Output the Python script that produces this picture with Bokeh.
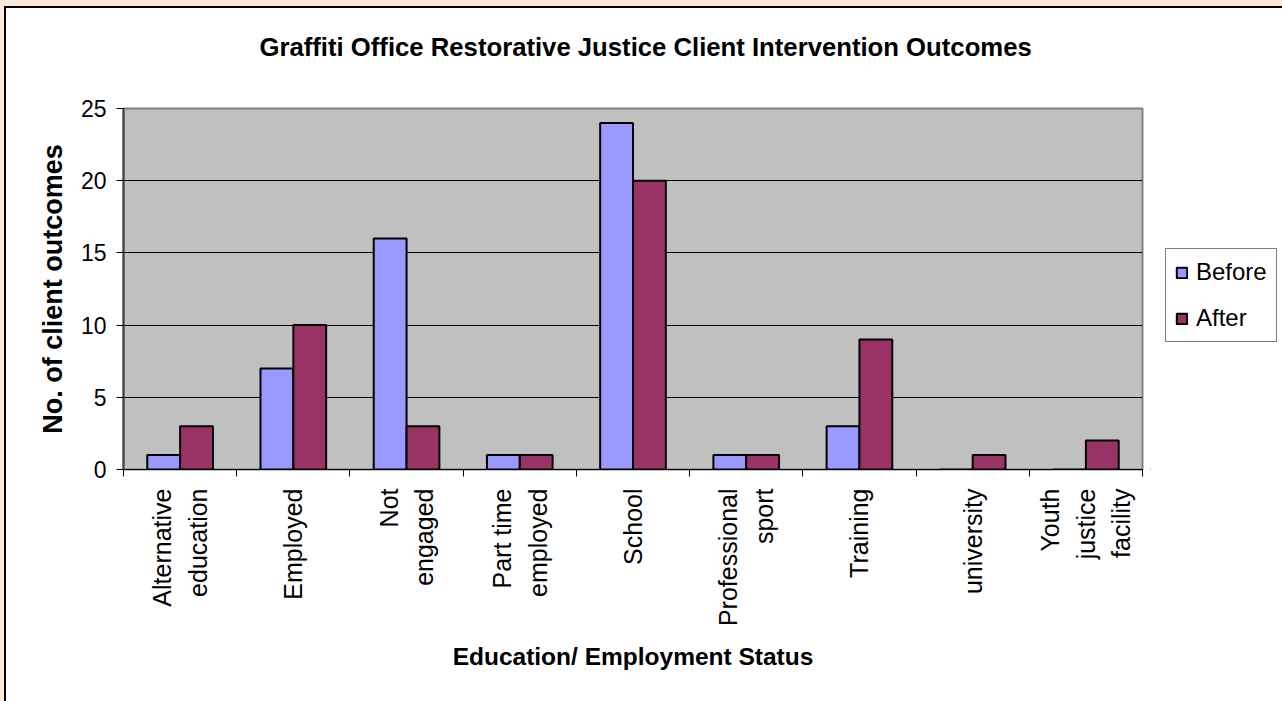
from bokeh.plotting import figure
from bokeh.models import FixedTicker, Legend, LegendItem, ColumnDataSource, Range1d, Title
from bokeh.layouts import row
from bokeh.embed import file_html
from bokeh.resources import INLINE

# ---- data ----
categories = ["Alternative education", "Employed", "Not engaged", "Part time employed",
              "School", "Professional sport", "Training", "university", "Youth justice facility"]
tick_labels = ["Alternative\neducation", "Employed", "Not\nengaged", "Part time\nemployed",
               "School", "Professional\nsport", "Training", "university", "Youth\njustice\nfacility"]
before = [1, 7, 16, 1, 24, 1, 3, 0, 0]
after = [3, 10, 3, 1, 20, 1, 9, 1, 2]
series_names = ["Before", "After"]
series_colors = ["#9999FF", "#993366"]
y_ticks = [0, 5, 10, 15, 20, 25]
chart_title = "Graffiti Office Restorative Justice Client Intervention Outcomes"

FONT = "Liberation Sans"
BAR_W = 0.29

n = len(categories)
centers = [i + 0.5 for i in range(n)]
src = ColumnDataSource(dict(
    cat=categories,
    xb=[c - BAR_W / 2 for c in centers],
    xa=[c + BAR_W / 2 for c in centers],
    before=before,
    after=after,
))

p = figure(width=1150, height=701, output_backend="svg", toolbar_location=None, title=None,
           x_range=Range1d(0, n), y_range=Range1d(0, 25),
           min_border_left=123, min_border_top=108, min_border_right=8, min_border_bottom=232)

p.background_fill_color = "#C0C0C0"
p.border_fill_color = None
p.outline_line_color = "#808080"
p.outline_line_width = 2

rb = p.vbar(x="xb", top="before", width=BAR_W, source=src,
            fill_color=series_colors[0], line_color="black", line_width=2)
ra = p.vbar(x="xa", top="after", width=BAR_W, source=src,
            fill_color=series_colors[1], line_color="black", line_width=2)

# title (spacer below it keeps it high above the plot area)
spacer = Title(text=" ", text_font_size="10px", standoff=30)
p.add_layout(spacer, "above")
main_title = Title(text=chart_title, text_font=FONT, text_font_size="25.7px",
                   text_font_style="bold", text_color="black", align="left",
                   offset=136, standoff=10)
p.add_layout(main_title, "above")

# grids
p.xgrid.grid_line_color = None
p.ygrid.grid_line_color = "black"
p.ygrid.grid_line_width = 1
p.ygrid.ticker = FixedTicker(ticks=y_ticks)

# y axis
p.yaxis.ticker = FixedTicker(ticks=y_ticks)
p.yaxis.axis_label = "No. of client outcomes"
p.yaxis.axis_label_text_font = FONT
p.yaxis.axis_label_text_font_size = "27px"
p.yaxis.axis_label_text_font_style = "bold"
p.yaxis.axis_label_text_color = "black"
p.yaxis.axis_label_standoff = 10
p.yaxis.major_label_text_font = FONT
p.yaxis.major_label_text_font_size = "23px"
p.yaxis.major_label_text_color = "black"
p.yaxis.major_label_standoff = 10
p.yaxis.major_tick_out = 7
p.yaxis.major_tick_in = 0
p.yaxis.minor_tick_line_color = None
p.yaxis.axis_line_color = "#404040"
p.yaxis.axis_line_width = 2
p.yaxis.major_tick_line_color = "black"

# x axis
p.xaxis.ticker = FixedTicker(ticks=centers, minor_ticks=list(range(n + 1)))
p.xaxis.major_label_overrides = {c: lab for c, lab in zip(centers, tick_labels)}
p.xaxis.major_label_orientation = 1.5707963267948966
p.xaxis.major_label_text_font = FONT
p.xaxis.major_label_text_font_size = "25px"
p.xaxis.major_label_text_color = "black"
p.xaxis.major_label_text_line_height = 1.27
p.xaxis.major_label_standoff = 12
p.xaxis.major_tick_out = 0
p.xaxis.major_tick_in = 0
p.xaxis.major_tick_line_color = None
p.xaxis.minor_tick_out = 7
p.xaxis.minor_tick_in = 0
p.xaxis.minor_tick_line_color = "black"
p.xaxis.axis_line_color = "black"
p.xaxis.axis_label = "Education/ Employment Status"
p.xaxis.axis_label_text_font = FONT
p.xaxis.axis_label_text_font_size = "24.5px"
p.xaxis.axis_label_text_font_style = "bold"
p.xaxis.axis_label_text_color = "black"
p.xaxis.axis_label_standoff = 14

# ---- legend panel (separate figure to the right of the plot area) ----
lf = figure(width=132, height=701, output_backend="svg", toolbar_location=None,
            x_range=Range1d(0, 1), y_range=Range1d(0, 1),
            x_axis_location=None, y_axis_location=None, min_border=0)
lf.grid.visible = False
lf.outline_line_color = None
lf.background_fill_color = None
lf.border_fill_color = None
lb = lf.vbar(x=[-5], top=[0], width=0.1, fill_color=series_colors[0], line_color="black", line_width=2)
la = lf.vbar(x=[-5], top=[0], width=0.1, fill_color=series_colors[1], line_color="black", line_width=2)

legend = Legend(items=[LegendItem(label=series_names[0], renderers=[lb]),
                       LegendItem(label=series_names[1], renderers=[la])],
                location=(15, 127))
legend.label_text_font = FONT
legend.label_text_font_size = "24px"
legend.label_text_color = "black"
legend.glyph_width = 13
legend.glyph_height = 13
legend.label_height = 24
legend.spacing = 18
legend.padding = 9
legend.margin = 0
legend.label_standoff = 8
legend.border_line_color = "black"
legend.border_line_width = 1
legend.background_fill_color = "white"
legend.background_fill_alpha = 1
lf.add_layout(legend)

layout = row(p, lf, spacing=0)
layout.styles = {"background-color": "white",
                 "box-shadow": "inset 4px 6px 0 0 #FDE9D9, inset 6px 8px 0 0 #000000"}

open("out.html", "w").write(file_html(layout, INLINE))
